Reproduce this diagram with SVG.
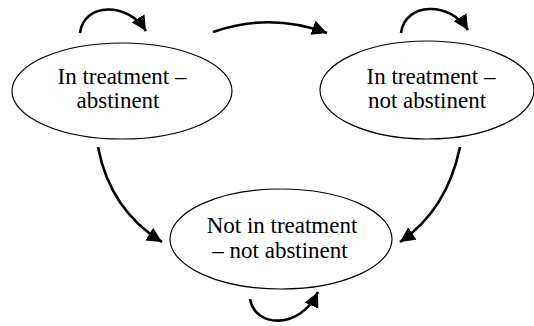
<svg xmlns="http://www.w3.org/2000/svg" width="534" height="326" viewBox="0 0 534 326">
<defs>
<marker id="ah" markerUnits="userSpaceOnUse" markerWidth="17" markerHeight="15" refX="15" refY="7.5" orient="auto">
<path d="M0,0 L15,7.5 L0,15 Z" fill="#000"/>
</marker>
<style>
.node ellipse{fill:#fff;stroke:#000;stroke-width:1.2}
.node text{font-family:"Liberation Serif","Times New Roman",serif;font-size:23px;fill:#000;text-anchor:middle}
.conn path{fill:none;stroke:#000;stroke-width:2.6;marker-end:url(#ah)}
</style>
</defs>
<rect width="534" height="326" fill="#fff"/>
<g id="connectors" class="conn">
<path d="M80,33 C84,2 128,2 146,31"/>
<path d="M401,33 C405,2 450,1 468,30"/>
<path d="M213,32 Q270,12 327,33"/>
<path d="M98,147 Q110,210 162,242"/>
<path d="M460,147 Q447,210 400,242"/>
<path d="M250,299 C255,328 300,330 318,292"/>
</g>
<g id="node-abstinent" class="node">
<ellipse cx="122" cy="91" rx="110" ry="48"/>
<text x="122" y="84">In treatment –</text>
<text x="118" y="108">abstinent</text>
</g>
<g id="node-not-abstinent" class="node">
<ellipse cx="427" cy="90" rx="107" ry="49"/>
<text x="431" y="84">In treatment –</text>
<text x="427" y="108">not abstinent</text>
</g>
<g id="node-not-in-treatment" class="node">
<ellipse cx="281" cy="239" rx="111" ry="50"/>
<text x="282" y="233">Not in treatment</text>
<text x="280" y="258">– not abstinent</text>
</g>
</svg>
